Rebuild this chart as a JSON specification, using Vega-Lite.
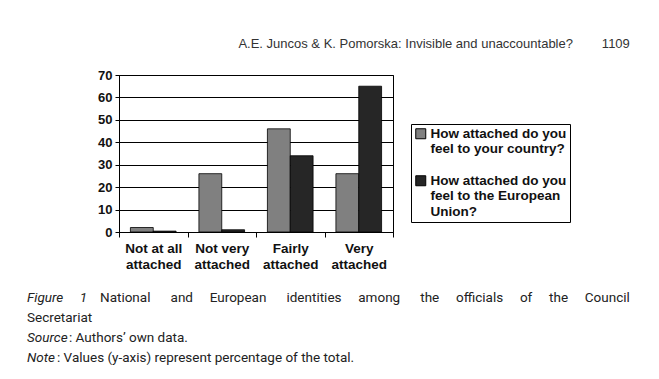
{
  "$schema": "https://vega.github.io/schema/vega-lite/v6.json",
  "background": "white",
  "padding": {"left": 27, "top": 37, "right": 0, "bottom": 0},
  "autosize": {"type": "pad"},
  "title": {
    "text": "A.E. Juncos & K. Pomorska: Invisible and unaccountable?\u00a0\u00a0\u00a0\u00a0\u00a0\u00a0\u00a0\u00a01109",
    "anchor": "end",
    "frame": "bounds",
    "font": "Liberation Sans",
    "fontSize": 13,
    "fontWeight": "normal",
    "color": "#333333",
    "offset": 18
  },
  "config": {"view": {"stroke": null}, "concat": {"spacing": 56}},
  "bounds": "flush",
  "vconcat": [
    {
      "width": 274,
      "height": 157,
      "view": {"stroke": "#000000", "strokeWidth": 1},
      "data": {
        "values": [
          {"level": "Not at all attached", "series": "How attached do you feel to your country?", "pct": 2},
          {"level": "Not very attached", "series": "How attached do you feel to your country?", "pct": 26},
          {"level": "Fairly attached", "series": "How attached do you feel to your country?", "pct": 46},
          {"level": "Very attached", "series": "How attached do you feel to your country?", "pct": 26},
          {"level": "Not at all attached", "series": "How attached do you feel to the European Union?", "pct": 0.4},
          {"level": "Not very attached", "series": "How attached do you feel to the European Union?", "pct": 1},
          {"level": "Fairly attached", "series": "How attached do you feel to the European Union?", "pct": 34},
          {"level": "Very attached", "series": "How attached do you feel to the European Union?", "pct": 65}
        ]
      },
      "mark": {"type": "bar", "stroke": "#000000", "strokeWidth": 0.8},
      "encoding": {
        "x": {
          "field": "level",
          "type": "nominal",
          "sort": ["Not at all attached", "Not very attached", "Fairly attached", "Very attached"],
          "scale": {"paddingInner": 0, "paddingOuter": 0},
          "axis": {
            "title": null,
            "labelAngle": 0,
            "tickBand": "extent",
            "labelExpr": "datum.label ? [replace(datum.label, ' attached', ''), 'attached'] : ''",
            "labelLineHeight": 16,
            "labelFont": "Liberation Sans",
            "labelFontWeight": "bold",
            "labelFontSize": 13.5,
            "labelColor": "#111111",
            "labelBaseline": "top",
            "labelPadding": 4,
            "tickSize": 5,
            "tickColor": "#000000",
            "domainColor": "#000000",
            "labelLimit": 0
          }
        },
        "xOffset": {
          "field": "series",
          "type": "nominal",
          "sort": ["How attached do you feel to your country?", "How attached do you feel to the European Union?"],
          "scale": {"paddingInner": 0, "paddingOuter": 0.5}
        },
        "y": {
          "field": "pct",
          "type": "quantitative",
          "scale": {"domain": [0, 70]},
          "axis": {
            "title": null,
            "values": [0, 10, 20, 30, 40, 50, 60, 70],
            "grid": true,
            "gridColor": "#000000",
            "gridOpacity": 1,
            "gridWidth": 1,
            "domainColor": "#000000",
            "tickColor": "#000000",
            "tickSize": 4,
            "labelFont": "Liberation Sans",
            "labelFontWeight": "bold",
            "labelFontSize": 13,
            "labelColor": "#111111",
            "labelPadding": 3
          }
        },
        "color": {
          "field": "series",
          "type": "nominal",
          "sort": ["How attached do you feel to your country?", "How attached do you feel to the European Union?"],
          "scale": {"range": ["#808080", "#262626"]},
          "legend": {
            "title": null,
            "orient": "none",
            "legendX": 292,
            "legendY": 49,
            "strokeColor": "#000000",
            "fillColor": "#ffffff",
            "padding": 3,
            "symbolType": "square",
            "symbolSize": 100,
            "symbolStrokeColor": "#000000",
            "symbolStrokeWidth": 1,
            "symbolOpacity": 1,
            "labelFont": "Liberation Sans",
            "labelFontWeight": "bold",
            "labelFontSize": 13.5,
            "labelLineHeight": 14.5,
            "labelColor": "#111111",
            "labelLimit": 0,
            "labelOffset": 3,
            "rowPadding": 17,
            "labelExpr": "datum.label == 'How attached do you feel to your country?' ? ['How attached do you', 'feel to your country?'] : ['How attached do you', 'feel to the European', 'Union?']"
          }
        }
      }
    },
    {
      "width": 274,
      "height": 80,
      "data": {
        "values": [
          {"line": 1, "lead": "Figure\u00a0\u00a0\u00a0\u00a0\u00a01", "body": "National\u00a0\u00a0\u00a0\u00a0\u00a0\u00a0and\u00a0\u00a0\u00a0\u00a0\u00a0European\u00a0\u00a0\u00a0\u00a0\u00a0\u00a0identities\u00a0\u00a0\u00a0\u00a0\u00a0among\u00a0\u00a0\u00a0\u00a0\u00a0\u00a0the\u00a0\u00a0\u00a0\u00a0\u00a0officials\u00a0\u00a0\u00a0\u00a0\u00a0of\u00a0\u00a0\u00a0\u00a0\u00a0the\u00a0\u00a0\u00a0\u00a0\u00a0Council"},
          {"line": 2, "lead": "", "body": "Secretariat"},
          {"line": 3, "lead": "Source", "body": ": Authors’ own data."},
          {"line": 4, "lead": "Note", "body": ": Values (y-axis) represent percentage of the total."}
        ]
      },
      "encoding": {
        "y": {"field": "line", "type": "ordinal", "axis": null, "scale": {"paddingInner": 0, "paddingOuter": 0}},
        "x": {"value": 0}
      },
      "layer": [
        {
          "mark": {"type": "text", "align": "left", "baseline": "middle", "font": "Roboto", "fontSize": 13.5, "fontStyle": "italic", "color": "#222222", "dx": -92},
          "encoding": {"text": {"field": "lead"}}
        },
        {
          "transform": [{"filter": "datum.line == 1"}],
          "mark": {"type": "text", "align": "left", "baseline": "middle", "font": "Roboto", "fontSize": 13.5, "color": "#222222", "dx": -19},
          "encoding": {"text": {"field": "body"}}
        },
        {
          "transform": [{"filter": "datum.line == 2"}],
          "mark": {"type": "text", "align": "left", "baseline": "middle", "font": "Roboto", "fontSize": 13.5, "color": "#222222", "dx": -92},
          "encoding": {"text": {"field": "body"}}
        },
        {
          "transform": [{"filter": "datum.line == 3"}],
          "mark": {"type": "text", "align": "left", "baseline": "middle", "font": "Roboto", "fontSize": 13.5, "color": "#222222", "dx": -50},
          "encoding": {"text": {"field": "body"}}
        },
        {
          "transform": [{"filter": "datum.line == 4"}],
          "mark": {"type": "text", "align": "left", "baseline": "middle", "font": "Roboto", "fontSize": 13.5, "color": "#222222", "dx": -62},
          "encoding": {"text": {"field": "body"}}
        }
      ]
    }
  ]
}
